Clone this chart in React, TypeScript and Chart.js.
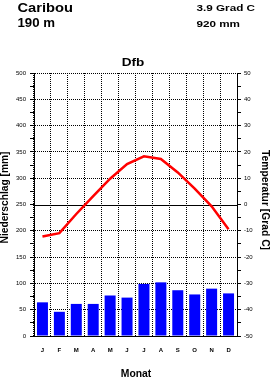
import React, { useEffect, useRef } from "react";
import { Chart, registerables } from "chart.js";

Chart.register(...registerables);

const months = ["J", "F", "M", "A", "M", "J", "J", "A", "S", "O", "N", "D"];
const precipitation = [64, 46, 61, 61, 77, 73, 99, 102, 87, 79, 90, 81];
const temperature = [-12.2, -10.9, -3.6, 3.2, 9.8, 15.4, 18.3, 17.3, 12.2, 6.0, -0.7, -9.4];
const stationName = "Caribou";
const elevation = "190 m";
const meanTemp = "3.9 Grad C";
const annualPrecip = "920 mm";
const climateClass = "Dfb";
const precipAxisTitle = "Niederschlag [mm]";
const tempAxisTitle = "Temperatur [Grad C]";
const monthAxisTitle = "Monat";
const precipRange = [0, 500];
const tempRange = [-50, 50];

const FONT = '"Liberation Sans", Arial, sans-serif';

function drawFit(
  ctx: CanvasRenderingContext2D,
  text: string,
  x: number,
  y: number,
  font: string,
  width: number,
  center = false
) {
  ctx.font = font;
  const m = ctx.measureText(text).width;
  const sx = width / m;
  ctx.save();
  ctx.translate(x, y);
  ctx.scale(sx, 1);
  ctx.textAlign = "left";
  ctx.textBaseline = "alphabetic";
  ctx.fillText(text, center ? -m / 2 : 0, 0);
  ctx.restore();
}

const textPlugin = {
  id: "climateTexts",
  beforeDatasetsDraw(chart: any) {
    const ctx = chart.ctx as CanvasRenderingContext2D;
    const y1 = chart.scales.y1;
    const area = chart.chartArea;
    const yz = Math.round(y1.getPixelForValue(0)) + 0.5;
    ctx.save();
    ctx.strokeStyle = "#000";
    ctx.lineWidth = 1;
    ctx.setLineDash([]);
    ctx.beginPath();
    ctx.moveTo(area.left, yz);
    ctx.lineTo(area.right, yz);
    ctx.stroke();
    ctx.restore();
  },
  afterDraw(chart: any) {
    const ctx = chart.ctx as CanvasRenderingContext2D;
    ctx.save();
    ctx.fillStyle = "#000";
    drawFit(ctx, stationName, 17.5, 11.5, `bold 12px ${FONT}`, 55.5);
    drawFit(ctx, elevation, 17.5, 27, `bold 12px ${FONT}`, 37.5);
    drawFit(ctx, meanTemp, 196.5, 10.5, `bold 9.5px ${FONT}`, 58.5);
    drawFit(ctx, annualPrecip, 196.5, 27, `bold 9.5px ${FONT}`, 43.5);
    drawFit(ctx, climateClass, 133, 65.5, `bold 11.5px ${FONT}`, 22.6, true);
    drawFit(ctx, monthAxisTitle, 136, 377, `bold 10px ${FONT}`, 30.5, true);

    ctx.save();
    ctx.translate(8, 197.5);
    ctx.rotate(-Math.PI / 2);
    drawFit(ctx, precipAxisTitle, 0, 0, `bold 10px ${FONT}`, 92, true);
    ctx.restore();

    ctx.save();
    ctx.translate(262, 200);
    ctx.rotate(Math.PI / 2);
    drawFit(ctx, tempAxisTitle, 0, 0, `bold 10px ${FONT}`, 100, true);
    ctx.restore();
    ctx.restore();
  },
};

export default function App() {
  const ref = useRef<HTMLCanvasElement | null>(null);

  useEffect(() => {
    if (!ref.current) return;
    const tickFont = { family: FONT, size: 6 };
    const chart = new Chart(ref.current, {
      type: "bar",
      data: {
        labels: months,
        datasets: [
          {
            type: "line",
            data: temperature,
            yAxisID: "y1",
            borderColor: "#ff0000",
            borderWidth: 2.5,
            pointRadius: 0,
            tension: 0,
            order: 0,
          } as any,
          {
            type: "bar",
            data: precipitation,
            yAxisID: "y",
            backgroundColor: "#0000ff",
            barPercentage: 0.65,
            categoryPercentage: 1,
            order: 1,
          },
        ],
      },
      options: {
        responsive: false,
        animation: false,
        events: [],
        layout: { padding: { top: 73, left: 0, right: 0, bottom: 0 } },
        plugins: {
          legend: { display: false },
          tooltip: { enabled: false },
          title: { display: false },
        },
        scales: {
          x: {
            grid: { offset: true, color: "#000", lineWidth: 1, drawTicks: false },
            border: { display: true, color: "#000", width: 1, dash: [1, 1] },
            ticks: { font: { ...tickFont, weight: "bold" }, color: "#000", padding: 11, maxRotation: 0, autoSkip: false },
            afterFit: (s: any) => {
              s.height = 42;
            },
          },
          y: {
            position: "left",
            min: precipRange[0],
            max: precipRange[1],
            grid: {
              color: (c: any) =>
                c.tick && c.tick.value % 50 === 0 && c.tick.value !== 250 ? "#000" : "rgba(0,0,0,0)",
              tickColor: "#000",
              tickLength: 4,
              lineWidth: 1,
            },
            border: { display: true, color: "#000", width: 1, dash: [1, 1] },
            ticks: {
              stepSize: 25,
              autoSkip: false,
              font: tickFont,
              color: "#000",
              padding: 4,
              callback: (v: any) => (Number(v) % 50 === 0 ? String(v) : ""),
            },
            afterFit: (s: any) => {
              s.width = 34;
            },
          },
          y1: {
            position: "right",
            min: tempRange[0],
            max: tempRange[1],
            grid: { drawOnChartArea: false, tickColor: "#000", tickLength: 4, color: "#000" },
            border: { display: true, color: "#000", width: 1 },
            ticks: {
              stepSize: 5,
              autoSkip: false,
              font: tickFont,
              color: "#000",
              padding: 3,
              callback: (v: any) => (Number(v) % 10 === 0 ? String(v) : ""),
            },
            afterFit: (s: any) => {
              s.width = 33;
            },
          },
        },
      } as any,
      plugins: [textPlugin],
    });
    return () => chart.destroy();
  }, []);

  return (
    <div style={{ position: "fixed", left: 0, top: 0, width: 270, height: 378, background: "#fff" }}>
      <canvas ref={ref} width={270} height={378} style={{ display: "block", width: 270, height: 378 }} />
    </div>
  );
}
